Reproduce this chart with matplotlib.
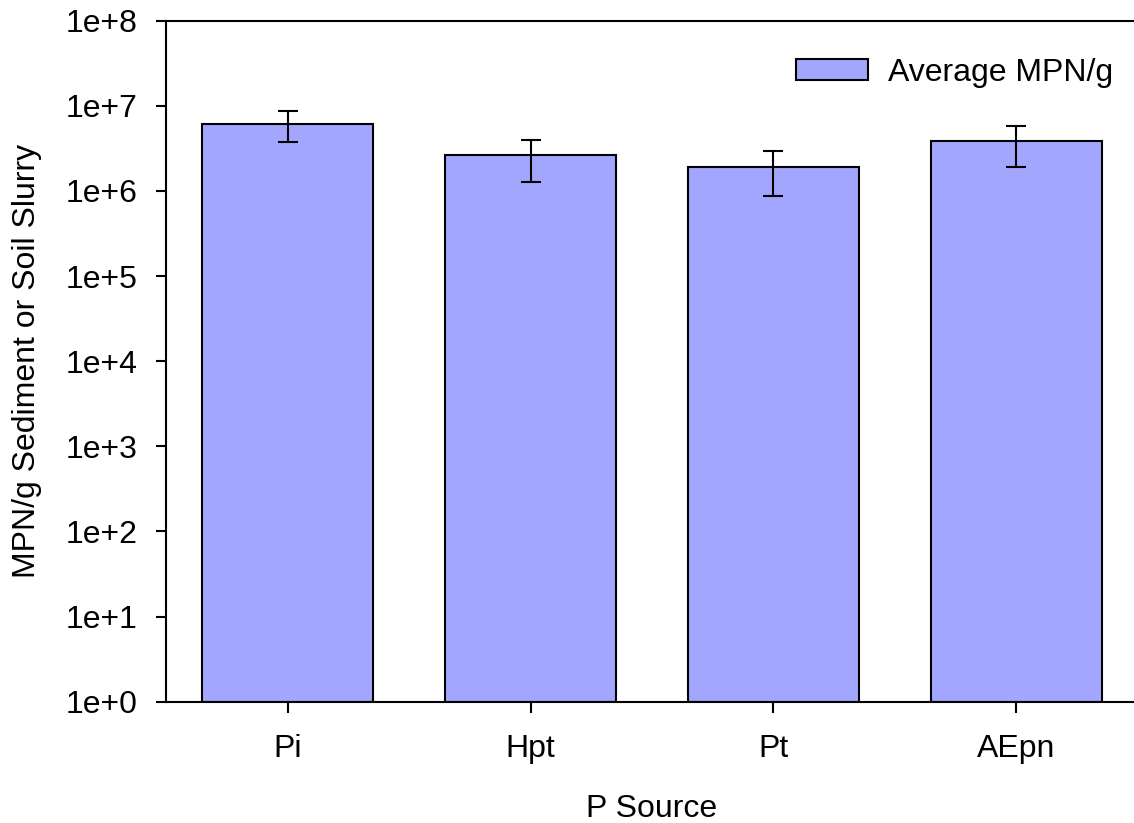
import numpy as np
import matplotlib
matplotlib.use("Agg")
import matplotlib.pyplot as plt
from matplotlib.ticker import FixedLocator, NullLocator, FuncFormatter

sources = ["Pi", "Hpt", "Pt", "AEpn"]
avg_mpn = [6.17e6, 2.62e6, 1.90e6, 3.86e6]
err_mpn = [2.45e6, 1.36e6, 1.02e6, 1.95e6]

plt.rcParams['font.family'] = ['Liberation Sans', 'DejaVu Sans']
fs = 23

fig = plt.figure(figsize=(11.34, 8.23), dpi=100)
W, H = 1134, 823
ax = fig.add_axes([166 / W, 1 - 701.7 / H, (1138 - 166) / W, (701.7 - 20.7) / H])

x = np.arange(len(sources))
ax.bar(x, avg_mpn, width=0.70, bottom=1, color='#a3a6fe', edgecolor='black',
       linewidth=1.5, label='Average MPN/g', zorder=2)
ax.errorbar(x, avg_mpn, yerr=err_mpn, fmt='none', ecolor='black',
            elinewidth=1.5, capsize=7.5, capthick=1.5, zorder=3)

ax.set_yscale('log')
ax.set_ylim(1, 1e8)
ax.set_xlim(-0.5, 3.5)
ax.yaxis.set_major_locator(FixedLocator([10.0 ** k for k in range(9)]))
ax.yaxis.set_minor_locator(NullLocator())
ax.yaxis.set_major_formatter(FuncFormatter(lambda v, p: "1e+%d" % round(np.log10(v))))
ax.set_xticks(x)
ax.set_xticklabels(sources)

for s in ['left', 'bottom', 'top']:
    ax.spines[s].set_linewidth(1.5)
ax.spines['right'].set_visible(False)
ax.tick_params(axis='y', direction='out', length=7.5, width=1.5, labelsize=fs, pad=13)
ax.tick_params(axis='x', direction='out', length=8, width=1.5, labelsize=fs, pad=15)

ax.set_xlabel('P Source', fontsize=fs)
ax.set_ylabel('MPN/g Sediment or Soil Slurry', fontsize=fs)
ax.xaxis.set_label_coords(0.5, -0.136)
ax.yaxis.set_label_coords(-0.128, 0.5)

ax.legend(loc='upper right', bbox_to_anchor=(1.0045, 0.988), frameon=False, fontsize=fs,
          handlelength=2.28, handleheight=0.63, handletextpad=0.63)

fig.savefig('out.png', dpi=100)
